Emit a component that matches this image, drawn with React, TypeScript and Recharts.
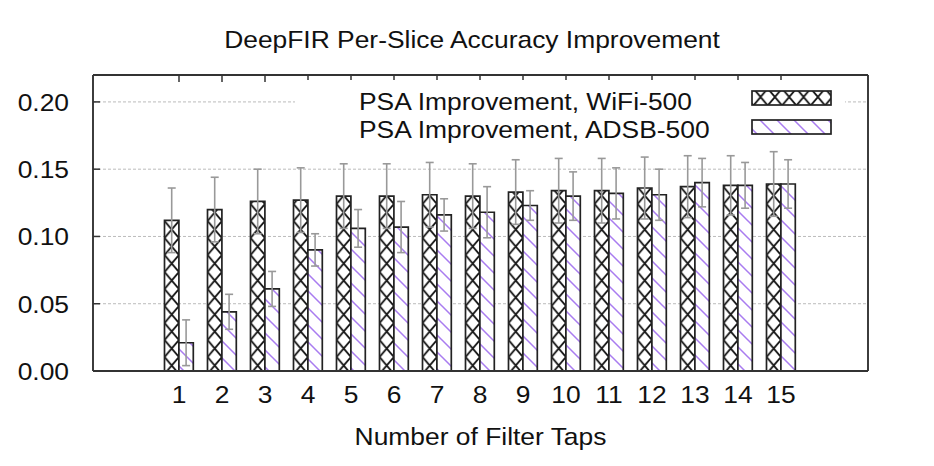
import React from 'react';
import { BarChart, Bar, XAxis, YAxis, CartesianGrid, ErrorBar, Legend, Label } from 'recharts';

// ---- data ----
const taps = ['1', '2', '3', '4', '5', '6', '7', '8', '9', '10', '11', '12', '13', '14', '15'];
const wifiValues = [0.112, 0.120, 0.126, 0.127, 0.130, 0.130, 0.131, 0.130, 0.133, 0.134, 0.134, 0.136, 0.137, 0.138, 0.139];
const wifiErrors = [0.024, 0.024, 0.024, 0.024, 0.024, 0.024, 0.024, 0.024, 0.024, 0.024, 0.024, 0.023, 0.023, 0.022, 0.024];
const adsbValues = [0.021, 0.044, 0.061, 0.090, 0.106, 0.107, 0.116, 0.118, 0.123, 0.130, 0.132, 0.131, 0.140, 0.138, 0.139];
const adsbErrors = [0.017, 0.013, 0.013, 0.012, 0.014, 0.019, 0.012, 0.019, 0.011, 0.018, 0.019, 0.019, 0.018, 0.017, 0.018];
const yTicks = [0, 0.05, 0.1, 0.15, 0.2];
const seriesNames = ['PSA Improvement, WiFi-500', 'PSA Improvement, ADSB-500'];
const titleText = 'DeepFIR Per-Slice Accuracy Improvement';
const xLabelText = 'Number of Filter Taps';

const data = taps.map((t, i) => ({
  tap: t,
  wifi: wifiValues[i],
  wifiErr: wifiErrors[i],
  adsb: adsbValues[i],
  adsbErr: adsbErrors[i],
}));

// ---- layout ----
const W = 934;
const H = 466;
const PL = 93;
const PR = 868;
const PT = 75;
const PB = 371;
const FONT = '"Liberation Sans", Arial, Helvetica, sans-serif';
const SX = 1.1;
const FS = 24;
const FRAME = '#333';

const SText = ({ x, y, anchor = 'start', size = FS, children }: any) => (
  <g transform={`translate(${x},${y}) scale(${SX},1)`}>
    <text x={0} y={0} textAnchor={anchor} fontSize={size} fontFamily={FONT} fill="#111">
      {children}
    </text>
  </g>
);

const YTick = (props: any) => {
  const { x, y, payload } = props;
  return (
    <g>
      <line x1={x} x2={x + 7} y1={y} y2={y} stroke={FRAME} strokeWidth={1.5} />
      <SText x={x - 24} y={y + 9} anchor="end">
        {Number(payload.value).toFixed(2)}
      </SText>
    </g>
  );
};

const XTick = (props: any) => {
  const { x, y, payload } = props;
  return (
    <SText x={x} y={y + 32} anchor="middle">
      {payload.value}
    </SText>
  );
};

const LegendContent = (props: any) => {
  const items = [...(props.payload || [])].sort(
    (a: any, b: any) => seriesNames.indexOf(a.value) - seriesNames.indexOf(b.value)
  );
  return (
    <svg width={550} height={65} style={{ display: 'block' }}>
      <rect x={0} y={0} width={550} height={65} fill="#fff" />
      {items.map((entry: any, i: number) => (
        <g key={i}>
          <SText x={64} y={30 + i * 27.7} anchor="start">
            {entry.value}
          </SText>
          <rect
            x={457}
            y={11 + i * 29}
            width={79}
            height={14}
            fill={entry.payload?.fill ?? entry.color}
            stroke="#222"
            strokeWidth={1.7}
          />
        </g>
      ))}
    </svg>
  );
};

export default function App() {
  const pw = 43 / 3;
  return (
    <div style={{ position: 'absolute', left: 0, top: 0, width: W, height: H, background: '#fff' }}>
      <BarChart
        width={W}
        height={H}
        data={data}
        margin={{ top: PT, right: W - PR, left: 0, bottom: 0 }}
        barSize={14.4}
        barGap={0}
      >
        <defs>
          <pattern id="xhatch" patternUnits="userSpaceOnUse" x={6.9} y={0} width={pw} height={17}>
            <rect x={0} y={0} width={pw} height={17} fill="#fff" />
            <path d={`M0,0 L${pw},17 M${pw},0 L0,17`} stroke="#1a1a1a" strokeWidth={1.8} />
          </pattern>
          <pattern id="dhatch" patternUnits="userSpaceOnUse" x={0} y={0} width={17} height={17}>
            <rect x={0} y={0} width={17} height={17} fill="#fff" />
            <path d="M-1,-1 L18,18 M-1,16 L1,18 M16,-1 L18,1" stroke="#a97cf0" strokeWidth={1.5} />
          </pattern>
        </defs>
        <CartesianGrid vertical={false} stroke="#aaa" strokeWidth={0.8} strokeDasharray="3 2" />
        <XAxis
          dataKey="tap"
          type="category"
          height={H - PB}
          padding={{ left: 64.5, right: 65.5 }}
          axisLine={{ stroke: FRAME, strokeWidth: 1.9 }}
          tickLine={false}
          tickSize={0}
          tickMargin={0}
          tick={<XTick />}
          interval={0}
        >
          <Label
            content={(p: any) => {
              const vb = p.viewBox || {};
              return (
                <SText x={vb.x + vb.width / 2} y={PB + 74} anchor="middle">
                  {xLabelText}
                </SText>
              );
            }}
          />
        </XAxis>
        <XAxis
          xAxisId="top"
          dataKey="tap"
          type="category"
          orientation="top"
          mirror
          height={1}
          padding={{ left: 64.5, right: 65.5 }}
          axisLine={{ stroke: FRAME, strokeWidth: 1.9 }}
          tickLine={{ stroke: FRAME, strokeWidth: 1.5 }}
          tickSize={7}
          tickFormatter={() => ''}
          interval={0}
        >
          <Label
            content={() => (
              <SText x={(PL + PR) / 2 - 8.5} y={PT - 27} anchor="middle">
                {titleText}
              </SText>
            )}
          />
        </XAxis>
        <YAxis
          type="number"
          domain={[0, 0.22]}
          ticks={yTicks}
          width={PL}
          axisLine={{ stroke: FRAME, strokeWidth: 1.9 }}
          tickLine={false}
          tickSize={0}
          tickMargin={0}
          tick={<YTick />}
          interval={0}
        />
        <YAxis
          yAxisId="right"
          type="number"
          orientation="right"
          mirror
          width={1}
          domain={[0, 0.22]}
          ticks={yTicks}
          axisLine={{ stroke: FRAME, strokeWidth: 1.9 }}
          tickLine={{ stroke: FRAME, strokeWidth: 1.5 }}
          tickSize={7}
          tickFormatter={() => ''}
          interval={0}
        />
        <Legend
          layout="vertical"
          align="center"
          verticalAlign="middle"
          wrapperStyle={{ position: 'absolute', left: 295, top: 80, width: 550, height: 65 }}
          content={<LegendContent />}
        />
        <Bar
          dataKey="wifi"
          name={seriesNames[0]}
          fill="url(#xhatch)"
          stroke="#222"
          strokeWidth={1.7}
          isAnimationActive={false}
        >
          <ErrorBar dataKey="wifiErr" width={4} stroke="#999" strokeWidth={1.6} direction="y" isAnimationActive={false} />
        </Bar>
        <Bar
          dataKey="adsb"
          name={seriesNames[1]}
          fill="url(#dhatch)"
          stroke="#222"
          strokeWidth={1.7}
          isAnimationActive={false}
        >
          <ErrorBar dataKey="adsbErr" width={4} stroke="#999" strokeWidth={1.6} direction="y" isAnimationActive={false} />
        </Bar>
      </BarChart>
    </div>
  );
}
